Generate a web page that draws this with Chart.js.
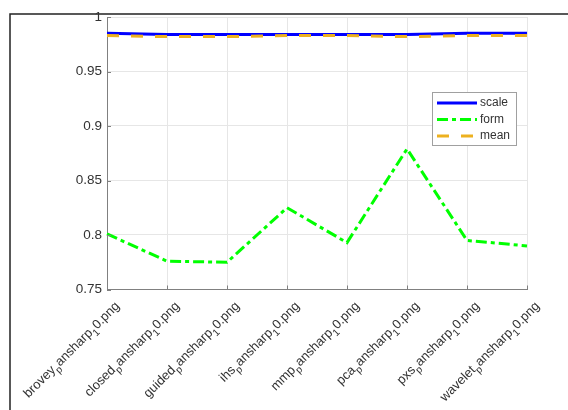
<!DOCTYPE html>
<html><head><meta charset="utf-8">
<script src="https://cdn.jsdelivr.net/npm/chart.js@4"></script>
<style>html,body{margin:0;padding:0;background:#fff}canvas{display:block}</style>
</head><body>
<canvas id="c" width="568" height="410"></canvas>
<script>
const categories = ['brovey_pansharp_10.png','closed_pansharp_10.png','guided_pansharp_10.png','ihs_pansharp_10.png','mmp_pansharp_10.png','pca_pansharp_10.png','pxs_pansharp_10.png','wavelet_pansharp_10.png'];
const scaleValues = [0.985,0.984,0.984,0.984,0.984,0.984,0.985,0.985];
const formValues  = [0.801,0.776,0.775,0.825,0.793,0.879,0.795,0.790];
const meanValues  = [0.983,0.982,0.982,0.983,0.983,0.982,0.983,0.983];
const yTicks = [0.75,0.8,0.85,0.9,0.95,1];
const seriesNames = ['scale','form','mean'];

const FONT = '"Liberation Sans", Arial, Helvetica, sans-serif';
const TEXT = '#333333';
const AXIS = '#808080';
const GRID = '#e6e6e6';
const BLUE = '#0000ff', GREEN = '#00ff00', ORANGE = '#EDB120';
const DASH_FORM = [11,4,4,4];
const DASH_MEAN = [12,12];

function drawTexLabel(ctx, text, x, y){
  const parts = text.split('_');
  const segs = [{t:parts[0], sub:false}];
  for (let i=1;i<parts.length;i++){
    segs.push({t:parts[i][0], sub:true});
    if (parts[i].length>1) segs.push({t:parts[i].slice(1), sub:false});
  }
  const nf = '13px ' + FONT, sf = '10px ' + FONT;
  let total = 0;
  segs.forEach(s=>{ ctx.font = s.sub?sf:nf; s.w = ctx.measureText(s.t).width; total += s.w; });
  ctx.save();
  ctx.translate(x,y);
  ctx.rotate(-Math.PI/4);
  ctx.fillStyle = TEXT;
  ctx.textAlign = 'left';
  ctx.textBaseline = 'alphabetic';
  let cx = -total;
  segs.forEach(s=>{
    ctx.font = s.sub?sf:nf;
    ctx.fillText(s.t, cx, s.sub? 9 : 4.5);
    cx += s.w;
  });
  ctx.restore();
}

const decor = {
  id:'decor',
  beforeDraw(chart){
    const ctx = chart.ctx;
    ctx.save();
    ctx.strokeStyle = '#222';
    ctx.lineWidth = 1.5;
    ctx.beginPath();
    ctx.moveTo(10,410); ctx.lineTo(10,14); ctx.lineTo(568,14);
    ctx.stroke();
    ctx.restore();
  },
  afterDraw(chart){
    const ctx = chart.ctx;
    const xs = chart.scales.x, ys = chart.scales.y;
    const a = chart.chartArea;
    ctx.save();
    // inward ticks
    ctx.strokeStyle = AXIS; ctx.lineWidth = 1;
    ctx.beginPath();
    yTicks.forEach(v=>{ const py = Math.round(ys.getPixelForValue(v))+0.5; ctx.moveTo(a.left, py); ctx.lineTo(a.left+4, py); });
    categories.forEach((c,i)=>{ const px = Math.round(xs.getPixelForValue(i))+0.5; ctx.moveTo(px, a.bottom); ctx.lineTo(px, a.bottom-4); });
    ctx.stroke();
    // x labels
    categories.forEach((c,i)=>{ drawTexLabel(ctx, c, xs.getPixelForValue(i)+10, a.bottom+14); });
    // legend
    const bx=432, by=92, bw=84, bh=53;
    ctx.fillStyle='#fff'; ctx.fillRect(bx,by,bw,bh);
    ctx.strokeStyle='#a0a0a0'; ctx.lineWidth=1; ctx.strokeRect(bx+0.5,by+0.5,bw,bh);
    const ds = chart.data.datasets;
    const rows = [103,119.5,136];
    ds.forEach((d,i)=>{
      ctx.save();
      ctx.strokeStyle = d.borderColor; ctx.lineWidth = d.borderWidth;
      ctx.setLineDash(d.borderDash||[]);
      ctx.beginPath(); ctx.moveTo(437, rows[i]); ctx.lineTo(477, rows[i]); ctx.stroke();
      ctx.restore();
      ctx.fillStyle = TEXT; ctx.font = '12px ' + FONT; ctx.textBaseline='middle'; ctx.textAlign='left';
      ctx.fillText(d.label, 480, rows[i]);
    });
    ctx.restore();
  }
};

new Chart(document.getElementById('c'), {
  type:'line',
  data:{
    labels: categories,
    datasets:[
      {label:seriesNames[0], data:scaleValues, borderColor:BLUE, borderWidth:3, pointRadius:0, order:3, borderDash:[]},
      {label:seriesNames[1], data:formValues, borderColor:GREEN, borderWidth:3, pointRadius:0, order:2, borderDash:DASH_FORM},
      {label:seriesNames[2], data:meanValues, borderColor:ORANGE, borderWidth:3, pointRadius:0, order:1, borderDash:DASH_MEAN}
    ]
  },
  options:{
    responsive:false, animation:false, devicePixelRatio:1,
    layout:{padding:{top:17,right:41,left:0,bottom:0}},
    plugins:{legend:{display:false}, tooltip:{enabled:false}},
    elements:{line:{tension:0}},
    scales:{
      x:{
        type:'category', offset:false,
        grid:{color:GRID, lineWidth:1, drawTicks:false},
        border:{color:AXIS, width:1},
        ticks:{display:false},
        afterFit(s){ s.height = 120.5; }
      },
      y:{
        min:0.75, max:1,
        afterBuildTicks(s){ s.ticks = yTicks.map(v=>({value:v})); },
        grid:{color:GRID, lineWidth:1, drawTicks:false},
        border:{color:AXIS, width:1},
        ticks:{padding:5, color:TEXT, font:{family:FONT, size:13.5}, callback:v=>String(v)},
        afterFit(s){ s.width = 107; }
      }
    }
  },
  plugins:[decor]
});
</script>
</body></html>
